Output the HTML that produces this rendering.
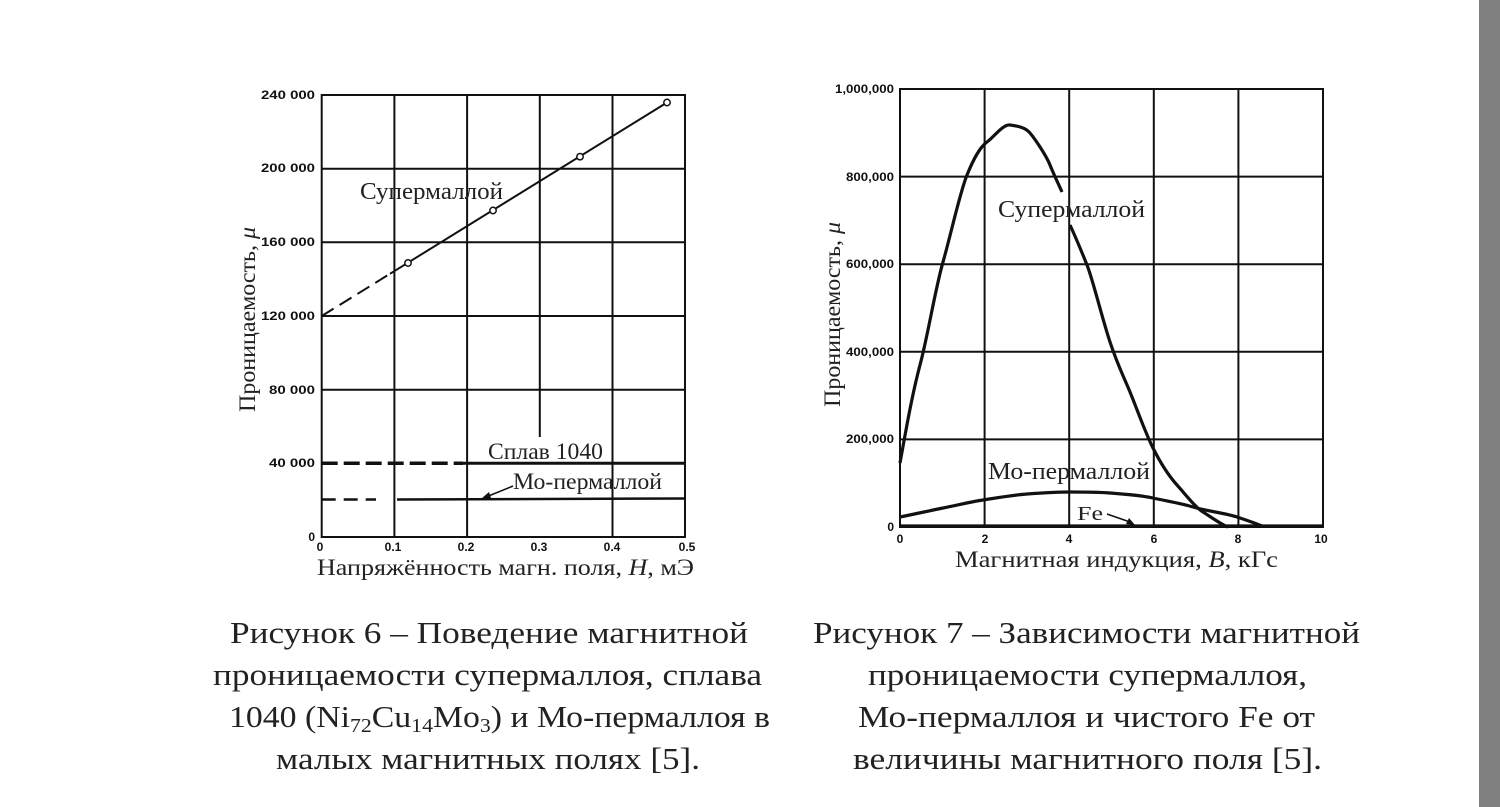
<!DOCTYPE html>
<html><head><meta charset="utf-8"><style>
html,body{margin:0;padding:0;background:#fff;}
body{width:1500px;height:807px;overflow:hidden;position:relative;}
svg{position:absolute;left:0;top:0;}
.t{font-family:"Liberation Serif",serif;fill:#222;}
.k{font-family:"Liberation Sans",sans-serif;font-weight:bold;font-size:12px;fill:#111;}
</style></head><body>
<svg width="1500" height="807" viewBox="0 0 1500 807">
<rect x="1479" y="0" width="21" height="807" fill="#808080"/>
<!-- LEFT CHART -->
<g stroke="#111" stroke-width="2" fill="none">
<rect x="321.7" y="95" width="363.3" height="442"/>
<line x1="394.4" y1="95" x2="394.4" y2="537"/>
<line x1="467.1" y1="95" x2="467.1" y2="537"/>
<line x1="539.8" y1="95" x2="539.8" y2="437"/>
<line x1="612.5" y1="95" x2="612.5" y2="537"/>
<line x1="321.7" y1="168.7" x2="685" y2="168.7"/>
<line x1="321.7" y1="242.3" x2="685" y2="242.3"/>
<line x1="321.7" y1="316" x2="685" y2="316"/>
<line x1="321.7" y1="389.7" x2="685" y2="389.7"/>
</g>
<g stroke="#111" fill="none">
<line x1="321.7" y1="316" x2="390" y2="273.8" stroke-width="2" stroke-dasharray="14,7"/>
<line x1="390" y1="273.8" x2="667" y2="102.5" stroke-width="2"/>
<line x1="321.7" y1="463.3" x2="463" y2="463.3" stroke-width="3.5" stroke-dasharray="16,6"/>
<line x1="463" y1="463.3" x2="685" y2="463.3" stroke-width="3"/>
<line x1="321.7" y1="499.5" x2="376" y2="499.5" stroke-width="2.5" stroke-dasharray="14,8"/>
<line x1="397" y1="499.5" x2="685" y2="498.5" stroke-width="2.5"/>
<line x1="513" y1="486" x2="486" y2="497" stroke-width="1.5"/>
</g>
<polygon points="481,499 489,492 491,498" fill="#111"/>
<g stroke="#111" stroke-width="1.5" fill="#fff">
<circle cx="408" cy="263" r="3.2"/><circle cx="493" cy="210.5" r="3.2"/>
<circle cx="580" cy="156.7" r="3.2"/><circle cx="667" cy="102.5" r="3.2"/>
</g>
<g class="k" text-anchor="end">
<text x="315" y="99" textLength="54" lengthAdjust="spacingAndGlyphs">240 000</text>
<text x="315" y="172" textLength="54" lengthAdjust="spacingAndGlyphs">200 000</text>
<text x="315" y="246" textLength="54" lengthAdjust="spacingAndGlyphs">160 000</text>
<text x="315" y="320" textLength="54" lengthAdjust="spacingAndGlyphs">120 000</text>
<text x="315" y="394" textLength="46" lengthAdjust="spacingAndGlyphs">80 000</text>
<text x="315" y="467" textLength="46" lengthAdjust="spacingAndGlyphs">40 000</text>
<text x="315" y="541">0</text>
</g>
<g class="k" text-anchor="middle">
<text x="320" y="551">0</text><text x="393" y="551">0.1</text><text x="466" y="551">0.2</text>
<text x="539" y="551">0.3</text><text x="612" y="551">0.4</text><text x="687" y="551">0.5</text>
</g>
<text class="t" x="360" y="199" font-size="24" textLength="143" lengthAdjust="spacingAndGlyphs">Супермаллой</text>
<text class="t" x="488" y="459" font-size="23" textLength="115" lengthAdjust="spacingAndGlyphs">Сплав 1040</text>
<text class="t" x="513" y="489" font-size="23" textLength="149" lengthAdjust="spacingAndGlyphs">Мо-пермаллой</text>
<text class="t" x="317" y="575" font-size="23" textLength="377" lengthAdjust="spacingAndGlyphs">Напряжённость магн. поля, <tspan font-style="italic">H</tspan>, мЭ</text>
<text class="t" font-size="23" transform="translate(255,412) rotate(-90)" textLength="185" lengthAdjust="spacingAndGlyphs">Проницаемость, <tspan font-style="italic">μ</tspan></text>
<!-- RIGHT CHART -->
<g stroke="#111" stroke-width="2" fill="none">
<rect x="900" y="89" width="423" height="438"/>
<line x1="984.6" y1="89" x2="984.6" y2="527"/>
<line x1="1069.2" y1="89" x2="1069.2" y2="527"/>
<line x1="1153.8" y1="89" x2="1153.8" y2="527"/>
<line x1="1238.4" y1="89" x2="1238.4" y2="527"/>
<line x1="900" y1="176.6" x2="1323" y2="176.6"/>
<line x1="900" y1="264.2" x2="1323" y2="264.2"/>
<line x1="900" y1="351.8" x2="1323" y2="351.8"/>
<line x1="900" y1="439.4" x2="1323" y2="439.4"/>
</g>
<g stroke="#111" fill="none" stroke-width="3.2" stroke-linejoin="round">
<path d="M900,463 C906,430 912,395 920,365 S935,290 943,262 S960,192 967,175 S980,147 987,142 S1003,124 1010,125 S1025,127 1030,133 S1046,155 1050,165 S1058,183 1062,192"/>
<path d="M1070,225 C1076,238 1081,250 1087,265 S1102,318 1110,342 S1123,375 1130,392 S1145,432 1153,448 S1168,475 1177,485 S1195,507 1203,512 S1222,525 1228,527"/>
<path d="M900,517 C915,514 928,511 943,508 S970,502 983,500 S1013,495 1027,494 S1055,492 1070,492 S1097,492 1110,493 S1140,495 1153,498 S1180,503 1193,507 S1225,513 1237,517 S1255,523 1262,526"/>
<line x1="900" y1="526" x2="1323" y2="526"/>
</g>
<line x1="1107" y1="514" x2="1130" y2="522" stroke="#111" stroke-width="1.5"/>
<polygon points="1135,525 1126,524 1129,518" fill="#111"/>
<g class="k" text-anchor="end">
<text x="894" y="93" textLength="59" lengthAdjust="spacingAndGlyphs">1,000,000</text>
<text x="894" y="181" textLength="48" lengthAdjust="spacingAndGlyphs">800,000</text>
<text x="894" y="268" textLength="48" lengthAdjust="spacingAndGlyphs">600,000</text>
<text x="894" y="356" textLength="48" lengthAdjust="spacingAndGlyphs">400,000</text>
<text x="894" y="443" textLength="48" lengthAdjust="spacingAndGlyphs">200,000</text>
<text x="894" y="531">0</text>
</g>
<g class="k" text-anchor="middle">
<text x="900" y="543">0</text><text x="985" y="543">2</text><text x="1069" y="543">4</text>
<text x="1154" y="543">6</text><text x="1238" y="543">8</text><text x="1321" y="543">10</text>
</g>
<text class="t" x="998" y="217" font-size="24" textLength="147" lengthAdjust="spacingAndGlyphs">Супермаллой</text>
<text class="t" x="988" y="479" font-size="24" textLength="162" lengthAdjust="spacingAndGlyphs">Мо-пермаллой</text>
<text class="t" x="1077" y="520" font-size="20" textLength="26" lengthAdjust="spacingAndGlyphs">Fe</text>
<text class="t" x="955" y="567" font-size="23" textLength="323" lengthAdjust="spacingAndGlyphs">Магнитная индукция, <tspan font-style="italic">B</tspan>, кГс</text>
<text class="t" font-size="23" transform="translate(840,407) rotate(-90)" textLength="185" lengthAdjust="spacingAndGlyphs">Проницаемость, <tspan font-style="italic">μ</tspan></text>
<!-- CAPTIONS -->
<g class="t" font-size="31">
<text x="230" y="643" textLength="518" lengthAdjust="spacingAndGlyphs">Рисунок 6 – Поведение магнитной</text>
<text x="213" y="685" textLength="549" lengthAdjust="spacingAndGlyphs">проницаемости супермаллоя, сплава</text>
<text x="229" y="727" textLength="541" lengthAdjust="spacingAndGlyphs">1040 (Ni<tspan font-size="20" dy="5">72</tspan><tspan dy="-5">Cu</tspan><tspan font-size="20" dy="5">14</tspan><tspan dy="-5">Mo</tspan><tspan font-size="20" dy="5">3</tspan><tspan dy="-5">) и Мо-пермаллоя в</tspan></text>
<text x="276" y="769" textLength="424" lengthAdjust="spacingAndGlyphs">малых магнитных полях [5].</text>
<text x="813" y="643" textLength="547" lengthAdjust="spacingAndGlyphs">Рисунок 7 – Зависимости магнитной</text>
<text x="868" y="685" textLength="439" lengthAdjust="spacingAndGlyphs">проницаемости супермаллоя,</text>
<text x="858" y="727" textLength="457" lengthAdjust="spacingAndGlyphs">Мо-пермаллоя и чистого Fe от</text>
<text x="853" y="769" textLength="469" lengthAdjust="spacingAndGlyphs">величины магнитного поля [5].</text>
</g>
</svg>
</body></html>
